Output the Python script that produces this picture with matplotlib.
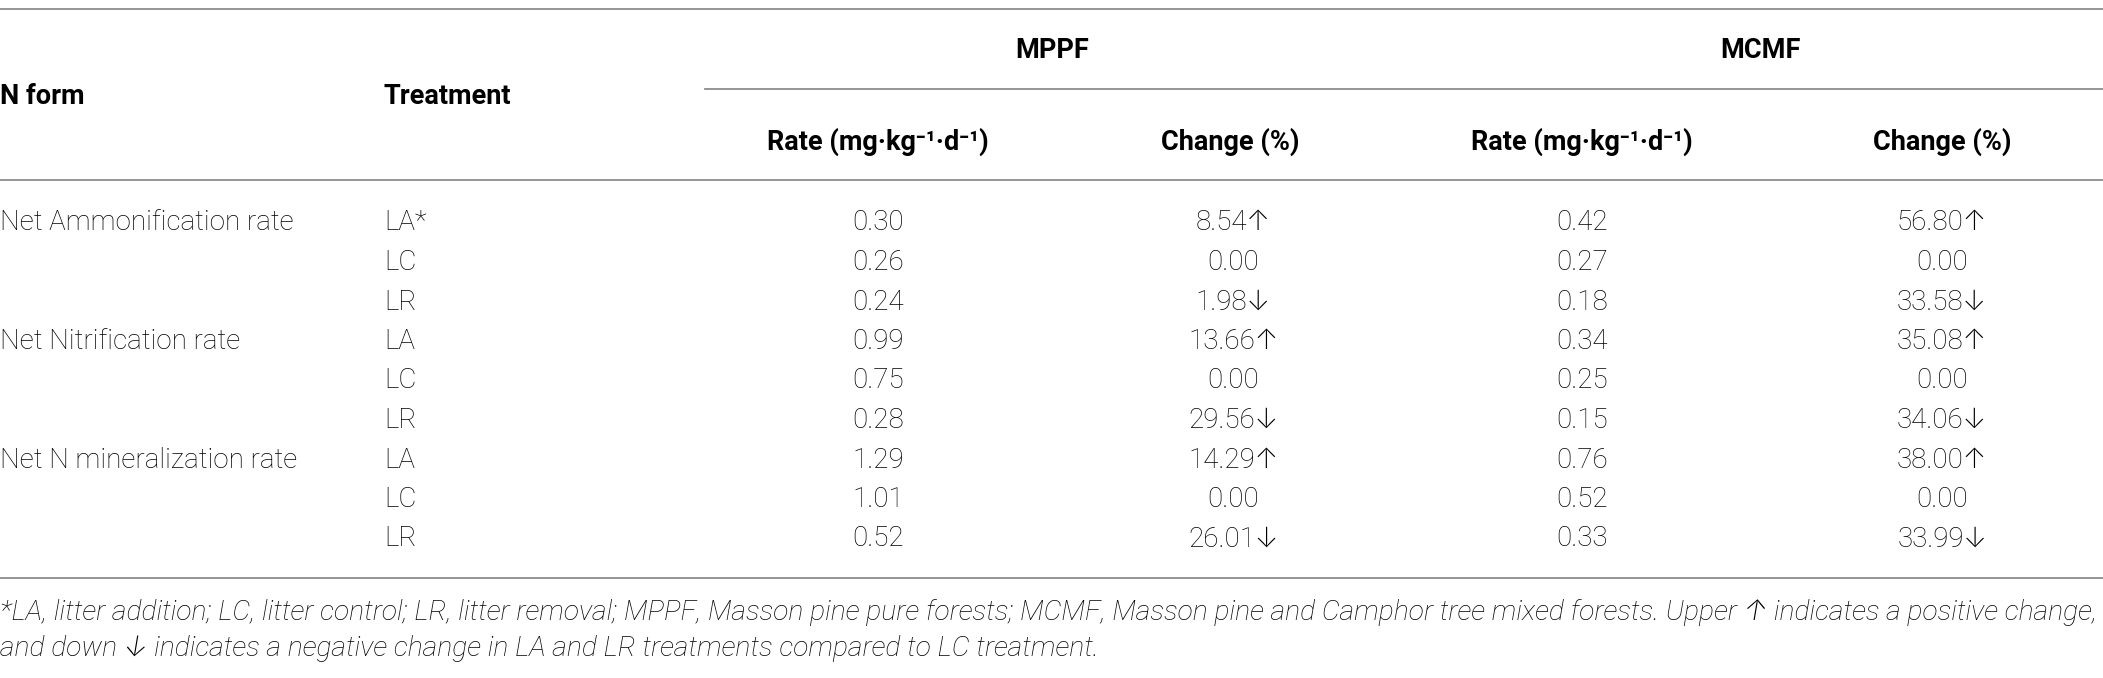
import matplotlib.pyplot as plt

# table content
n_forms = ["Net Ammonification rate", "", "",
           "Net Nitrification rate", "", "",
           "Net N mineralization rate", "", ""]
treatments = ["LA*", "LC", "LR", "LA", "LC", "LR", "LA", "LC", "LR"]
mppf_rate = ["0.30", "0.26", "0.24", "0.99", "0.75", "0.28", "1.29", "1.01", "0.52"]
mppf_change = ["8.54↑", "0.00", "1.98↓", "13.66↑", "0.00", "29.56↓", "14.29↑", "0.00", "26.01↓"]
mcmf_rate = ["0.42", "0.27", "0.18", "0.34", "0.25", "0.15", "0.76", "0.52", "0.33"]
mcmf_change = ["56.80↑", "0.00", "33.58↓", "35.08↑", "0.00", "34.06↓", "38.00↑", "0.00", "33.99↓"]
groups = ["MPPF", "MCMF"]
sub_headers = ["Rate (mg·kg⁻¹·d⁻¹)", "Change (%)", "Rate (mg·kg⁻¹·d⁻¹)", "Change (%)"]
footnote = ["*LA, litter addition; LC, litter control; LR, litter removal; MPPF, Masson pine pure forests; "
            "MCMF, Masson pine and Camphor tree mixed forests. Upper ↑ indicates a positive change,",
            "and down ↓ indicates a negative change in LA and LR treatments compared to LC treatment."]

W, H = 2103, 678
fam = ["Roboto", "Inter", "DejaVu Sans"]
txt = "#000000"
rule = "#8c8c8c"

fig = plt.figure(figsize=(W / 100, H / 100), dpi=100)
ax = fig.add_axes([0, 0, 1, 1])
ax.set_xlim(0, W)
ax.set_ylim(H, 0)
ax.axis("off")

# horizontal rules
ax.plot([0, W], [9, 9], color=rule, lw=1.3)
ax.plot([705, W], [89, 89], color=rule, lw=1.3)
ax.plot([0, W], [180, 180], color=rule, lw=1.3)
ax.plot([0, W], [578, 578], color=rule, lw=1.3)

# header
hd = dict(family=fam, fontsize=19.5, fontweight="bold", color=txt, va="center")
ax.text(0, 97, "N form", ha="left", **hd)
ax.text(384, 97, "Treatment", ha="left", **hd)
for g, xc in zip(groups, [1052, 1760]):
    ax.text(xc, 50, g, ha="center", **hd)
for s, xc in zip(sub_headers, [878, 1230, 1582, 1942]):
    ax.text(xc, 142, s, ha="center", **hd)

# body
bd = dict(family=fam, fontsize=20, fontweight="light", color=txt, va="center")
cols = [mppf_rate, mppf_change, mcmf_rate, mcmf_change]
for i in range(len(treatments)):
    y = 223 + i * 39.5
    ax.text(0, y, n_forms[i], ha="left", **bd)
    ax.text(384, y, treatments[i], ha="left", **bd)
    for vals, xc in zip(cols, [878, 1233, 1582, 1942]):
        ax.text(xc, y, vals[i], ha="center", **bd)

# footnote
for k, line in enumerate(footnote):
    ax.text(0, 613 + k * 36, line, ha="left", va="center", family=fam, fontsize=20.3,
            fontweight="light", style="italic", color=txt)

fig.savefig("out.png", dpi=100)
